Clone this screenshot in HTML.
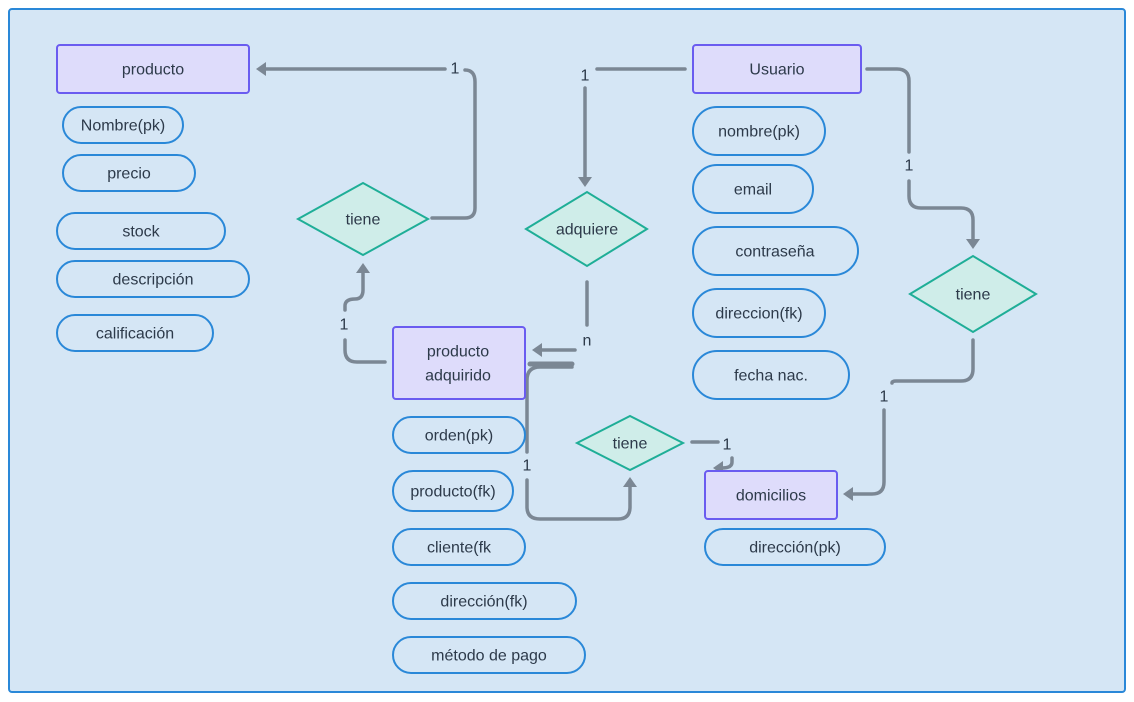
<!DOCTYPE html>
<html><head><meta charset="utf-8"><style>
html,body{margin:0;padding:0;background:#fff;}
svg{display:block;font-family:"Liberation Sans","DejaVu Sans",sans-serif;}
text{fill:#2d3a4a;font-size:16px;text-anchor:middle;dominant-baseline:central;}
.e{fill:#dedcfb;stroke:#6a5cf0;stroke-width:2;}
.p{fill:#d5e6f5;stroke:#2a88d8;stroke-width:2;}
.d{fill:#cfede9;stroke:#1fae97;stroke-width:2;}
.c{fill:none;stroke:#7b8794;stroke-width:3.5;stroke-linecap:round;stroke-linejoin:round;}
.a{fill:#7b8794;}
</style></head><body>
<svg width="1134" height="702" viewBox="0 0 1134 702">
<rect x="9" y="9" width="1116" height="683" rx="3" fill="#d5e6f5" stroke="#2a88d8" stroke-width="2"/>

<!-- connectors -->
<path class="c" d="M432 218 H465 Q475 218 475 208 V82 Q475 70 465 70"/>
<path class="c" d="M445 69 H264"/><polygon class="a" points="256,69 266,62 266,76"/>
<path class="c" d="M685 69 H597"/>
<path class="c" d="M585 88 V178"/><polygon class="a" points="585,187 578,177 592,177"/>
<path class="c" d="M587 282 V325"/>
<path class="c" d="M575 350 H540"/><polygon class="a" points="532,350 542,343 542,357"/>
<path class="c" d="M385 362 H357 Q345 362 345 350 V340"/>
<path class="c" d="M345 310 V306 Q345 299 355 299 Q363 299 363 290 V272"/><polygon class="a" points="363,263 356,273 370,273"/>
<path class="c" d="M530 364 H572" style="stroke-width:5"/>
<path class="c" d="M572 367 H540 Q527 367 527 380 V452"/>
<path class="c" d="M527 480 V507 Q527 519 540 519 H618 Q630 519 630 507 V486"/><polygon class="a" points="630,477 623,487 637,487"/>
<path class="c" d="M692 442 H718"/>
<path class="c" d="M732 458 V462 Q732 468 722 468"/><polygon class="a" points="713,468 723,461 723,475"/>
<path class="c" d="M867 69 H897 Q909 69 909 81 V152"/>
<path class="c" d="M909 181 V196 Q909 208 921 208 H961 Q973 208 973 220 V240"/><polygon class="a" points="973,249 966,239 980,239"/>
<path class="c" d="M973 340 V369 Q973 381 961 381 H896 Q892 381 892 383"/>
<path class="c" d="M884 410 V482 Q884 494 872 494 H851"/><polygon class="a" points="843,494 853,487 853,501"/>

<!-- labels on lines -->
<text x="455" y="69">1</text>
<text x="585" y="76">1</text>
<text x="587" y="341">n</text>
<text x="344" y="325">1</text>
<text x="527" y="466">1</text>
<text x="727" y="445">1</text>
<text x="909" y="166">1</text>
<text x="884" y="397">1</text>

<!-- entities -->
<rect class="e" x="57" y="45" width="192" height="48" rx="3"/><text x="153" y="70">producto</text>
<rect class="e" x="693" y="45" width="168" height="48" rx="3"/><text x="777" y="70">Usuario</text>
<rect class="e" x="393" y="327" width="132" height="72" rx="3"/><text x="458" y="352">producto</text><text x="458" y="376">adquirido</text>
<rect class="e" x="705" y="471" width="132" height="48" rx="3"/><text x="771" y="496">domicilios</text>

<!-- pills -->
<rect class="p" x="63" y="107" width="120" height="36" rx="18"/><text x="123" y="126">Nombre(pk)</text>
<rect class="p" x="63" y="155" width="132" height="36" rx="18"/><text x="129" y="174">precio</text>
<rect class="p" x="57" y="213" width="168" height="36" rx="18"/><text x="141" y="232">stock</text>
<rect class="p" x="57" y="261" width="192" height="36" rx="18"/><text x="153" y="280">descripción</text>
<rect class="p" x="57" y="315" width="156" height="36" rx="18"/><text x="135" y="334">calificación</text>

<rect class="p" x="693" y="107" width="132" height="48" rx="24"/><text x="759" y="132">nombre(pk)</text>
<rect class="p" x="693" y="165" width="120" height="48" rx="24"/><text x="753" y="190">email</text>
<rect class="p" x="693" y="227" width="165" height="48" rx="24"/><text x="775" y="252">contraseña</text>
<rect class="p" x="693" y="289" width="132" height="48" rx="24"/><text x="759" y="314">direccion(fk)</text>
<rect class="p" x="693" y="351" width="156" height="48" rx="24"/><text x="771" y="376">fecha nac.</text>

<rect class="p" x="393" y="417" width="132" height="36" rx="18"/><text x="459" y="436">orden(pk)</text>
<rect class="p" x="393" y="471" width="120" height="40" rx="20"/><text x="453" y="492">producto(fk)</text>
<rect class="p" x="393" y="529" width="132" height="36" rx="18"/><text x="459" y="548">cliente(fk</text>
<rect class="p" x="393" y="583" width="183" height="36" rx="18"/><text x="484" y="602">dirección(fk)</text>
<rect class="p" x="393" y="637" width="192" height="36" rx="18"/><text x="489" y="656">método de pago</text>
<rect class="p" x="705" y="529" width="180" height="36" rx="18"/><text x="795" y="548">dirección(pk)</text>

<!-- diamonds -->
<polygon class="d" points="298,219 363,183 428,219 363,255"/><text x="363" y="220">tiene</text>
<polygon class="d" points="526,229 587,192 647,229 587,266"/><text x="587" y="230">adquiere</text>
<polygon class="d" points="910,294 973,256 1036,294 973,332"/><text x="973" y="295">tiene</text>
<polygon class="d" points="577,443 630,416 683,443 630,470"/><text x="630" y="444">tiene</text>
</svg>
</body></html>
